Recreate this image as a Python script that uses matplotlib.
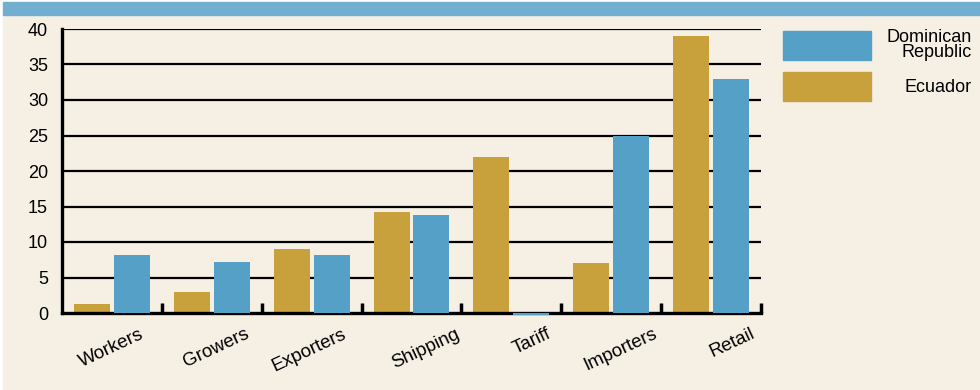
import matplotlib.pyplot as plt
import matplotlib.patches as mpatches
import matplotlib.transforms as mtrans
import numpy as np

categorias = ['Workers', 'Growers', 'Exporters', 'Shipping', 'Tariff', 'Importers', 'Retail']
ecuador = [1.2, 3, 9, 14.2, 22, 7, 39]
dominicana = [8.2, 7.2, 8.2, 13.8, -0.25, 25, 33]

cor_ecuador = '#C8A13D'
cor_dominicana = '#55A0C6'
fundo = '#F5EFE4'

# deslocamento horizontal de cada rotulo (pixels)
desloc_rotulos = [-1, 4, -3, 14, 21, 9, 21]

plt.rcParams['font.family'] = ['Liberation Sans', 'DejaVu Sans']

fig = plt.figure(figsize=(9.8, 3.9), dpi=100)
fig.patch.set_facecolor('white')

# painel creme e faixa azul no topo
fig.patches.append(mpatches.Rectangle((3 / 980, 0), 977 / 980, 1 - 15 / 390,
                                      transform=fig.transFigure, color=fundo, zorder=-2))
fig.patches.append(mpatches.Rectangle((3 / 980, 1 - 15 / 390), 977 / 980, 13 / 390,
                                      transform=fig.transFigure, color='#72AECF', zorder=-2))

ax = fig.add_axes([62 / 980, 1 - 313 / 390, 699 / 980, 284 / 390])
ax.set_facecolor('none')

x = np.arange(len(categorias))
larg = 0.36
ax.bar(x - 0.02 - larg / 2, ecuador, larg, color=cor_ecuador, zorder=3, clip_on=False)
ax.bar(x + 0.02 + larg / 2, dominicana, larg, color=cor_dominicana, zorder=5, clip_on=False)

for v in range(5, 45, 5):
    ax.axhline(v, color='black', lw=1.6, zorder=1)

ax.set_xlim(-0.5, len(categorias) - 0.5)
ax.set_ylim(0, 40)
ax.set_yticks(range(0, 45, 5))
ax.tick_params(axis='y', length=0, labelsize=13, pad=10)

ax.set_xticks(x)
ax.set_xticklabels(categorias, rotation=25, ha='center', fontsize=13.5)
ax.tick_params(axis='x', which='major', length=0, pad=9)
ax.set_xticks(np.arange(0.5, len(categorias), 1), minor=True)
ax.tick_params(axis='x', which='minor', direction='in', length=7, width=2.5, color='black')

for rot, dx in zip(ax.get_xticklabels(), desloc_rotulos):
    rot.set_transform(rot.get_transform() + mtrans.ScaledTranslation(dx / 100, 0, fig.dpi_scale_trans))

for lado in ['top', 'right']:
    ax.spines[lado].set_visible(False)
for lado in ['left', 'bottom']:
    ax.spines[lado].set_linewidth(2.4)
    ax.spines[lado].set_zorder(4)

# legenda
fig.patches.append(mpatches.Rectangle((783 / 980, 1 - 60 / 390), 88 / 980, 29 / 390,
                                      transform=fig.transFigure, color=cor_dominicana))
fig.patches.append(mpatches.Rectangle((783 / 980, 1 - 101 / 390), 88 / 980, 29 / 390,
                                      transform=fig.transFigure, color=cor_ecuador))
fig.text(972 / 980, 1 - 45 / 390, 'Dominican\nRepublic', ha='right', va='center',
         fontsize=13, linespacing=0.88)
fig.text(972 / 980, 1 - 88 / 390, 'Ecuador', ha='right', va='center', fontsize=13)

fig.savefig('out.png', dpi=100, facecolor=fig.get_facecolor())
